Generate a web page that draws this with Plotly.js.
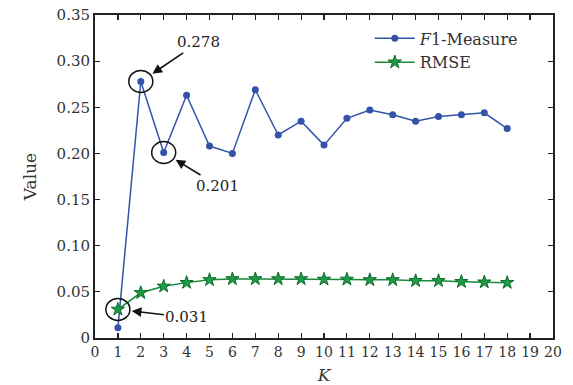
<!DOCTYPE html>
<html><head><meta charset="utf-8">
<script src="https://cdn.plot.ly/plotly-3.0.1.min.js"></script>
<style>html,body{margin:0;padding:0;background:#fff}#c{width:573px;height:385px}</style>
</head><body><div id="c"></div>
<script>
const K = [1,2,3,4,5,6,7,8,9,10,11,12,13,14,15,16,17,18];
const f1 = [0.011,0.278,0.201,0.263,0.208,0.200,0.269,0.220,0.235,0.209,0.238,0.247,0.242,0.235,0.240,0.242,0.244,0.227];
const rmse = [0.031,0.049,0.056,0.060,0.063,0.064,0.064,0.064,0.064,0.0635,0.0635,0.063,0.063,0.062,0.062,0.061,0.0605,0.060];
const yTickVals = [0,0.05,0.10,0.15,0.20,0.25,0.30,0.35];
const yTickText = ["0","0.05","0.10","0.15","0.20","0.25","0.30","0.35"];
const xTickVals = [0,1,2,3,4,5,6,7,8,9,10,11,12,13,14,15,16,17,18,19,20];
// annotated points: [series, index, label]
const marked = [["f1",1,"0.278"],["f1",2,"0.201"],["rmse",0,"0.031"]];
const labelOffsets = [[58,-39],[54,33],[69,8]];

const FONT = "DejaVu Serif, Liberation Serif, serif";
const blue = "#3353a8", green = "#16893a";

const traces = [
  {x:K, y:f1, name:"<i>F</i>1-Measure", mode:"lines+markers",
   line:{color:blue,width:1.5}, marker:{symbol:"circle",size:7,color:blue}},
  {x:K, y:rmse, name:"RMSE", mode:"lines+markers",
   line:{color:green,width:1.5}, marker:{symbol:"star",size:10,color:"#1f9a45",line:{color:"#0d6b2a",width:1}}}
];
const series = {f1:f1, rmse:rmse};
const shapes = marked.map(m => ({type:"circle", xref:"x", yref:"y", xsizemode:"pixel", ysizemode:"pixel",
  xanchor:K[m[1]], yanchor:series[m[0]][m[1]], x0:-12, x1:12, y0:-11, y1:11,
  line:{color:"#111",width:1.5}}));
const annotations = marked.map((m,i) => ({x:K[m[1]], y:series[m[0]][m[1]], xref:"x", yref:"y",
  text:m[2], showarrow:true, arrowhead:2, arrowsize:1.2, arrowwidth:1.6, arrowcolor:"#111",
  standoff:14, ax:labelOffsets[i][0], ay:labelOffsets[i][1], font:{family:FONT,size:15,color:"#222"}}));

const axisCommon = {showline:true, linecolor:"#222", linewidth:2, mirror:"ticks", ticks:"inside",
  ticklen:5, tickwidth:1.2, tickcolor:"#222", showgrid:false, zeroline:false,
  tickfont:{family:FONT,size:15,color:"#333"}};
const layout = {
  width:573, height:385, margin:{l:95,r:20,t:15,b:47},
  paper_bgcolor:"#fff", plot_bgcolor:"#fff",
  font:{family:FONT,color:"#333"},
  xaxis:Object.assign({}, axisCommon, {range:[0,20], tickvals:xTickVals, ticktext:xTickVals.map(String),
    tickfont:{family:FONT,size:14,color:"#333"},
    title:{text:"<i>K</i>", font:{family:FONT,size:17,color:"#333"}, standoff:11}}),
  yaxis:Object.assign({}, axisCommon, {range:[0,0.35], tickvals:yTickVals, ticktext:yTickText,
    title:{text:"Value", font:{family:FONT,size:17,color:"#333"}, standoff:16}}),
  legend:{x:0.6, y:0.98, xanchor:"left", yanchor:"top", bgcolor:"rgba(0,0,0,0)",
    font:{family:FONT,size:16,color:"#333"}, tracegroupgap:0, itemwidth:40},
  showlegend:true, shapes:shapes, annotations:annotations
};
Plotly.newPlot("c", traces, layout, {displayModeBar:false, staticPlot:true});
</script></body></html>
